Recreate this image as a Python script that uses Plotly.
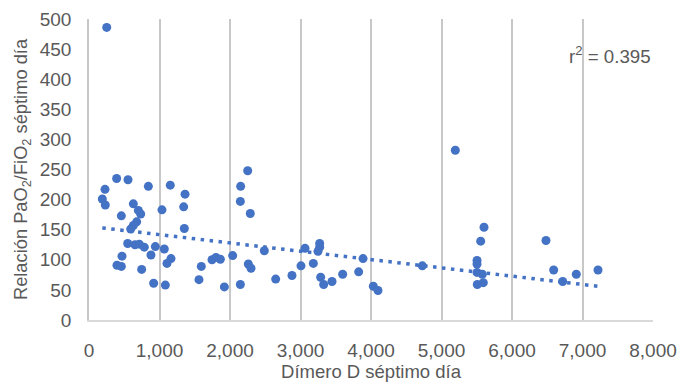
import plotly.graph_objects as go

dimero_d = [251, 392, 553, 227, 189, 231, 842, 1153, 1362, 1343, 1352, 1035, 629, 700, 733,
            459, 676, 629, 591, 549, 652, 714, 784, 941, 1068, 879, 468, 397, 459, 747,
            1163, 1106, 917, 1083, 1560, 1593, 1745, 1801, 1863, 2038, 1920, 2147, 2251,
            2151, 2147, 2288, 2260, 2298, 2487, 2648, 2879, 3007, 3064, 3182, 3272, 3272,
            3248, 3286, 3329, 3447, 3598, 3825, 3887, 4033, 4099, 4728, 5196, 5603, 5556,
            5504, 5504, 5504, 5579, 5508, 5593, 6482, 6591, 6719, 6912, 7220]
pafi = [486, 235, 233, 217, 201, 191, 222, 224, 209, 188, 152, 183, 193, 182, 176,
        173, 163, 157, 151, 127, 125, 126, 121, 122, 118, 108, 106, 91, 89, 84,
        102, 94, 61, 58, 67, 89, 100, 104, 101, 107, 55, 59, 248,
        222, 197, 177, 93, 86, 115, 68, 74, 90, 119, 94, 127, 121,
        114, 71, 59, 64, 76, 80, 102, 56, 49, 90, 282, 154, 131,
        99, 93, 79, 76, 59, 62, 132, 83, 64, 76, 83]

# linear trend line as drawn in the reference
trend_x = [189, 7220]
trend_y = [153, 56]

r2_label = "r<sup>2</sup> = 0.395"

blue = "#4472C4"
txt = "#595959"
fam = "Liberation Sans, Arial"

fig = go.Figure()
fig.add_trace(go.Scatter(x=trend_x, y=trend_y, mode="lines",
                         line=dict(color=blue, width=3.5, dash="3.5px,5.5px"),
                         hoverinfo="skip", showlegend=False))
fig.add_trace(go.Scatter(x=dimero_d, y=pafi, mode="markers",
                         marker=dict(color=blue, size=9, line=dict(width=0)),
                         showlegend=False))

fig.add_annotation(x=1, xref="paper", xanchor="right", y=440, yref="y",
                   text=r2_label, showarrow=False,
                   font=dict(family=fam, size=18.7, color=txt))

fig.update_layout(
    width=686, height=382,
    margin=dict(l=89, r=33, t=19, b=62),
    paper_bgcolor="white", plot_bgcolor="white",
    font=dict(family=fam, size=19, color=txt),
    xaxis=dict(range=[0, 8000], tickmode="linear", tick0=0, dtick=1000,
               tickformat=",d", showgrid=True, gridcolor="#C8C8C8", gridwidth=1.5,
               zeroline=False, showline=True, linecolor="#D9D9D9", linewidth=1.5,
               ticks="", automargin=False, ticklabelstandoff=12,
               tickfont=dict(family=fam, size=19, color=txt),
               title=dict(text="Dímero D séptimo día",
                          font=dict(family=fam, size=18.5, color=txt), standoff=4)),
    yaxis=dict(range=[0, 500], tickmode="linear", tick0=0, dtick=50,
               showgrid=False, zeroline=False, showline=True, linecolor="#C8C8C8",
               linewidth=1.5, ticks="", automargin=False, ticklabelstandoff=12,
               tickfont=dict(family=fam, size=19, color=txt),
               title=dict(text="Relación PaO<sub>2</sub>/FiO<sub>2</sub> séptimo día",
                          font=dict(family=fam, size=18.3, color=txt), standoff=7)),
)
fig.write_html("out.html", config={"displayModeBar": False},
               post_script="document.body.style.margin='0';")
